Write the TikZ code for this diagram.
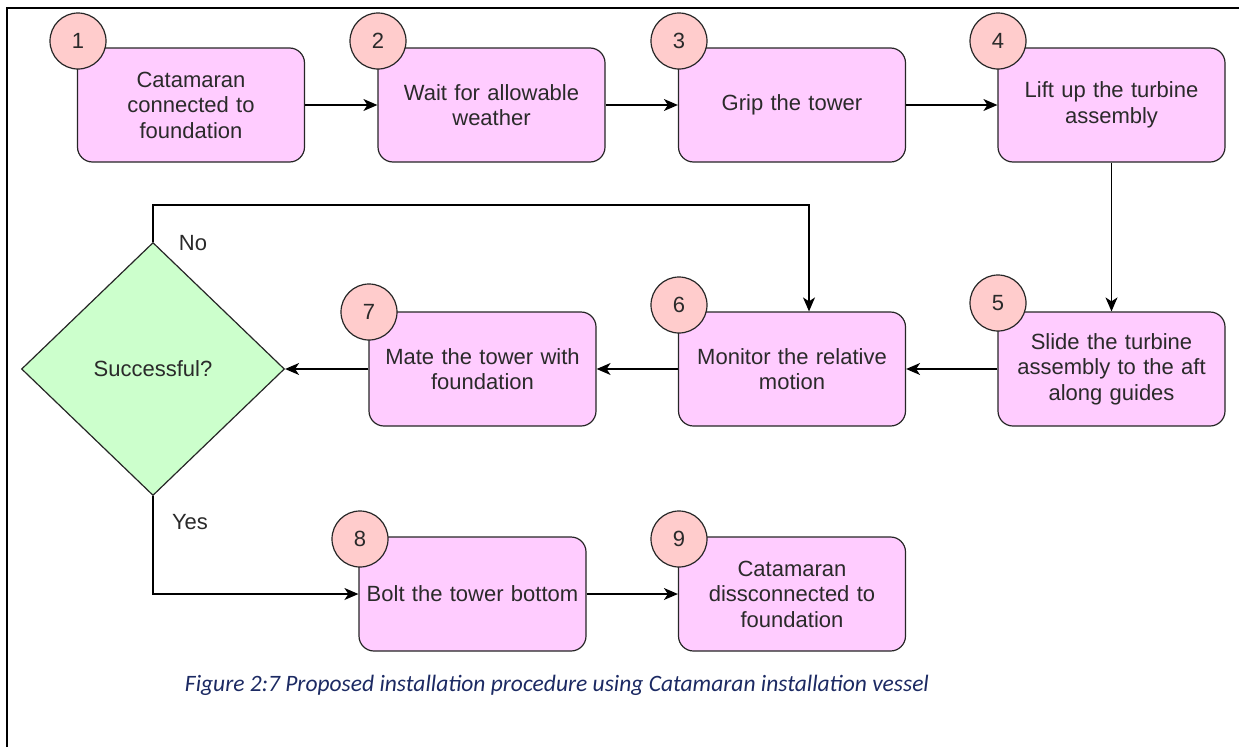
\documentclass[tikz,border=0pt]{standalone}
\usepackage{fontspec}
\setmainfont{Liberation Sans}
\newfontfamily\boxfont{Liberation Sans}
\newfontfamily\capfont{Carlito}
\usetikzlibrary{shapes.geometric,arrows.meta}
\definecolor{boxfill}{HTML}{FFCCFF}
\definecolor{numfill}{HTML}{FFCCCC}
\definecolor{decfill}{HTML}{CCFFCC}
\definecolor{captxt}{HTML}{1C2A63}
\definecolor{txt}{HTML}{2A2A2A}
\begin{document}
\begin{tikzpicture}[x=1pt,y=-1pt,
 stepbox/.style={draw=black!85, line width=1.2pt, fill=boxfill, rounded corners=15pt,
   minimum width=227pt, minimum height=114pt, text width=222pt, align=center,
   font=\boxfont\fontsize{22}{25.5}\selectfont, text=txt, inner sep=0pt},
 numcirc/.style={circle, draw=black!85, line width=1.2pt, fill=numfill, minimum size=56pt,
   inner sep=0pt, font=\boxfont\fontsize{22}{25}\selectfont, text=txt},
 conn/.style={line width=1.3pt, -{Stealth[length=14pt,width=12pt,inset=4pt]}},
 lbl/.style={font=\boxfont\fontsize{22}{25}\selectfont, text=txt}
]
\useasboundingbox (0,0) rectangle (1239,747);
\draw[line width=2.5pt] (7,747) -- (7,8) -- (1239,8);

% step boxes
\node[stepbox] (b1) at (191,105) {Catamaran\\connected to\\foundation};
\node[stepbox] (b2) at (491.5,105) {Wait for allowable\\weather};
\node[stepbox] (b3) at (792,105) {Grip the tower};
\node[stepbox] (b4) at (1111.5,105) {Lift up the turbine\\assembly};
\node[stepbox] (b5) at (1111.5,369) {Slide the turbine\\assembly to the aft\\along guides};
\node[stepbox] (b6) at (792,369) {Monitor the relative\\motion};
\node[stepbox] (b7) at (482.5,369) {Mate the tower with\\foundation};
\node[stepbox] (b8) at (472.5,594) {Bolt the tower bottom};
\node[stepbox] (b9) at (792,594) {Catamaran\\dissconnected to\\foundation};

% decision
\node[diamond, draw=black!85, line width=1.2pt, fill=decfill, minimum width=263pt,
  minimum height=253pt, inner sep=0pt, font=\boxfont\fontsize{22}{25}\selectfont, text=txt]
  (d) at (153,369) {Successful?};

% number circles
\node[numcirc] (c1) at (78,41) {1};
\node[numcirc] (c2) at (378,41) {2};
\node[numcirc] (c3) at (679,41) {3};
\node[numcirc] (c4) at (998,41) {4};
\node[numcirc] (c5) at (998,303) {5};
\node[numcirc] (c6) at (679,305) {6};
\node[numcirc] (c7) at (369,312) {7};
\node[numcirc] (c8) at (360,539) {8};
\node[numcirc] (c9) at (679,539) {9};

% connectors
\draw[conn] (b1) -- (b2);
\draw[conn] (b2) -- (b3);
\draw[conn] (b3) -- (b4);
\draw[conn] (b4) -- (b5);
\draw[conn] (b5) -- (b6);
\draw[conn] (b6) -- (b7);
\draw[conn] (b7) -- (d);
\coordinate (ntop) at (809,205);
\draw[conn] (d.north) |- (ntop) -- (ntop |- b6.north);
\draw[conn] (d.south) |- (b8.west);
\draw[conn] (b8) -- (b9);

% labels
\node[lbl] (no) at (193,243) {No};
\node[lbl] (yes) at (190,522) {Yes};

% caption
\node[font=\capfont\itshape\fontsize{23.5}{28}\selectfont, text=captxt] (cap) at (557,685)
  {Figure 2:7 Proposed installation procedure using Catamaran installation vessel};
\end{tikzpicture}
\end{document}
